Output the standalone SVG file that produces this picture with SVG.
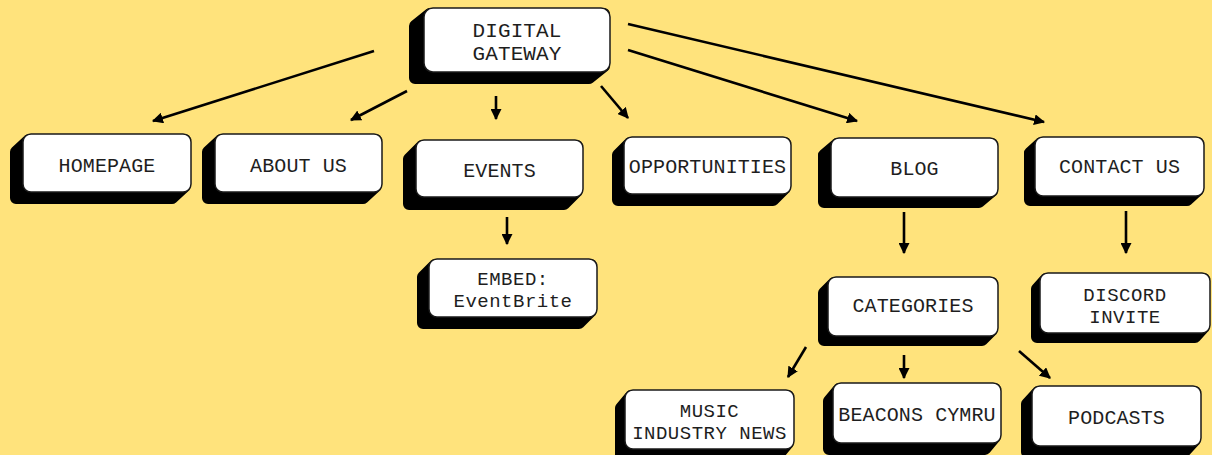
<svg xmlns="http://www.w3.org/2000/svg" width="1212" height="455" viewBox="0 0 1212 455">
<defs>
<style>
.sh{fill:#000;stroke:#000;stroke-width:12;stroke-linejoin:round}
.bx{fill:#fff;stroke:#1a1a1a;stroke-width:1.5}
.t{font-family:"Liberation Mono","DejaVu Sans Mono",monospace;font-size:20px;fill:#1e1e1e;text-anchor:middle;letter-spacing:0.1px}
.t2{font-size:19px;letter-spacing:0.5px}
.c{stroke:#000;stroke-width:2.6;fill:none;marker-end:url(#ah)}
</style>
<marker id="ah" markerUnits="userSpaceOnUse" markerWidth="11" markerHeight="11" viewBox="0 0 10 10" refX="9" refY="5" orient="auto">
<path d="M0,0 L10,5 L0,10 z" fill="#000"/>
</marker>
</defs>
<rect width="1212" height="455" fill="#FFE37C"/>
<g id="connectors">
<line class="c" x1="374" y1="51" x2="153" y2="121"/>
<line class="c" x1="407" y1="91" x2="351" y2="120"/>
<line class="c" x1="496" y1="96" x2="496" y2="119"/>
<line class="c" x1="601" y1="86" x2="628" y2="118"/>
<line class="c" x1="628" y1="50" x2="857" y2="121"/>
<line class="c" x1="628" y1="24" x2="1044" y2="122"/>
<line class="c" x1="507" y1="217" x2="507" y2="244"/>
<line class="c" x1="904" y1="212" x2="904" y2="253"/>
<line class="c" x1="1126" y1="211" x2="1126" y2="253"/>
<line class="c" x1="806" y1="347" x2="788" y2="377"/>
<line class="c" x1="904" y1="355" x2="904" y2="378"/>
<line class="c" x1="1019" y1="351" x2="1050" y2="378"/>
</g>
<g id="digital-gateway">
<polygon class="sh" points="430,14 604,14 604,66 589,78 415,78 415,26"/>
<rect class="bx" x="424" y="8" width="186" height="64" rx="9"/>
<text class="t" x="517" y="37" style="font-size:21px">DIGITAL</text>
<text class="t" x="517" y="60" style="font-size:21px">GATEWAY</text>
</g>
<g id="homepage">
<polygon class="sh" points="29,140 185,140 185,186 172,198 16,198 16,152"/>
<rect class="bx" x="23" y="134" width="168" height="58" rx="8"/>
<text class="t" x="107" y="172">HOMEPAGE</text>
</g>
<g id="about-us">
<polygon class="sh" points="221,140 376,140 376,186 363,198 208,198 208,152"/>
<rect class="bx" x="215" y="134" width="167" height="58" rx="8"/>
<text class="t" x="298.5" y="172">ABOUT US</text>
</g>
<g id="events">
<polygon class="sh" points="422,146 577,146 577,191 564,204 409,204 409,159"/>
<rect class="bx" x="416" y="140" width="167" height="57" rx="8"/>
<text class="t" x="499.5" y="177">EVENTS</text>
</g>
<g id="opportunities">
<polygon class="sh" points="630,143 785,143 785,188 773,200 618,200 618,155"/>
<rect class="bx" x="624" y="137" width="167" height="57" rx="8"/>
<text class="t" x="707.5" y="173">OPPORTUNITIES</text>
</g>
<g id="blog">
<polygon class="sh" points="837,144 992,144 992,191 979,202 824,202 824,155"/>
<rect class="bx" x="831" y="138" width="167" height="59" rx="8"/>
<text class="t" x="914.5" y="175">BLOG</text>
</g>
<g id="contact-us">
<polygon class="sh" points="1041,143 1198,143 1198,190 1187,200 1030,200 1030,153"/>
<rect class="bx" x="1035" y="137" width="169" height="59" rx="8"/>
<text class="t" x="1119.5" y="173">CONTACT US</text>
</g>
<g id="embed-eventbrite">
<polygon class="sh" points="435,265 591,265 591,311 579,323 423,323 423,277"/>
<rect class="bx" x="429" y="259" width="168" height="58" rx="8"/>
<text class="t t2" x="513" y="285">EMBED:</text>
<text class="t t2" x="513" y="307">EventBrite</text>
</g>
<g id="categories">
<polygon class="sh" points="834,283 992,283 992,330 982,340 824,340 824,293"/>
<rect class="bx" x="828" y="277" width="170" height="59" rx="8"/>
<text class="t" x="913" y="312">CATEGORIES</text>
</g>
<g id="discord-invite">
<polygon class="sh" points="1046,279 1204,279 1204,327 1195,337 1037,337 1037,289"/>
<rect class="bx" x="1040" y="273" width="170" height="60" rx="8"/>
<text class="t t2" x="1125" y="301">DISCORD</text>
<text class="t t2" x="1125" y="323">INVITE</text>
</g>
<g id="music-industry-news">
<polygon class="sh" points="631,396 788,396 788,443 778,455 621,455 621,408"/>
<rect class="bx" x="625" y="390" width="169" height="59" rx="8"/>
<text class="t t2" x="709.5" y="417">MUSIC</text>
<text class="t t2" x="709.5" y="439">INDUSTRY NEWS</text>
</g>
<g id="beacons-cymru">
<polygon class="sh" points="839,389 995,389 995,437 985,449 829,449 829,401"/>
<rect class="bx" x="833" y="383" width="168" height="60" rx="8"/>
<text class="t" x="917" y="421">BEACONS CYMRU</text>
</g>
<g id="podcasts">
<polygon class="sh" points="1038,392 1195,392 1195,440 1184,452 1027,452 1027,404"/>
<rect class="bx" x="1032" y="386" width="169" height="60" rx="8"/>
<text class="t" x="1116.5" y="424">PODCASTS</text>
</g>
</svg>
